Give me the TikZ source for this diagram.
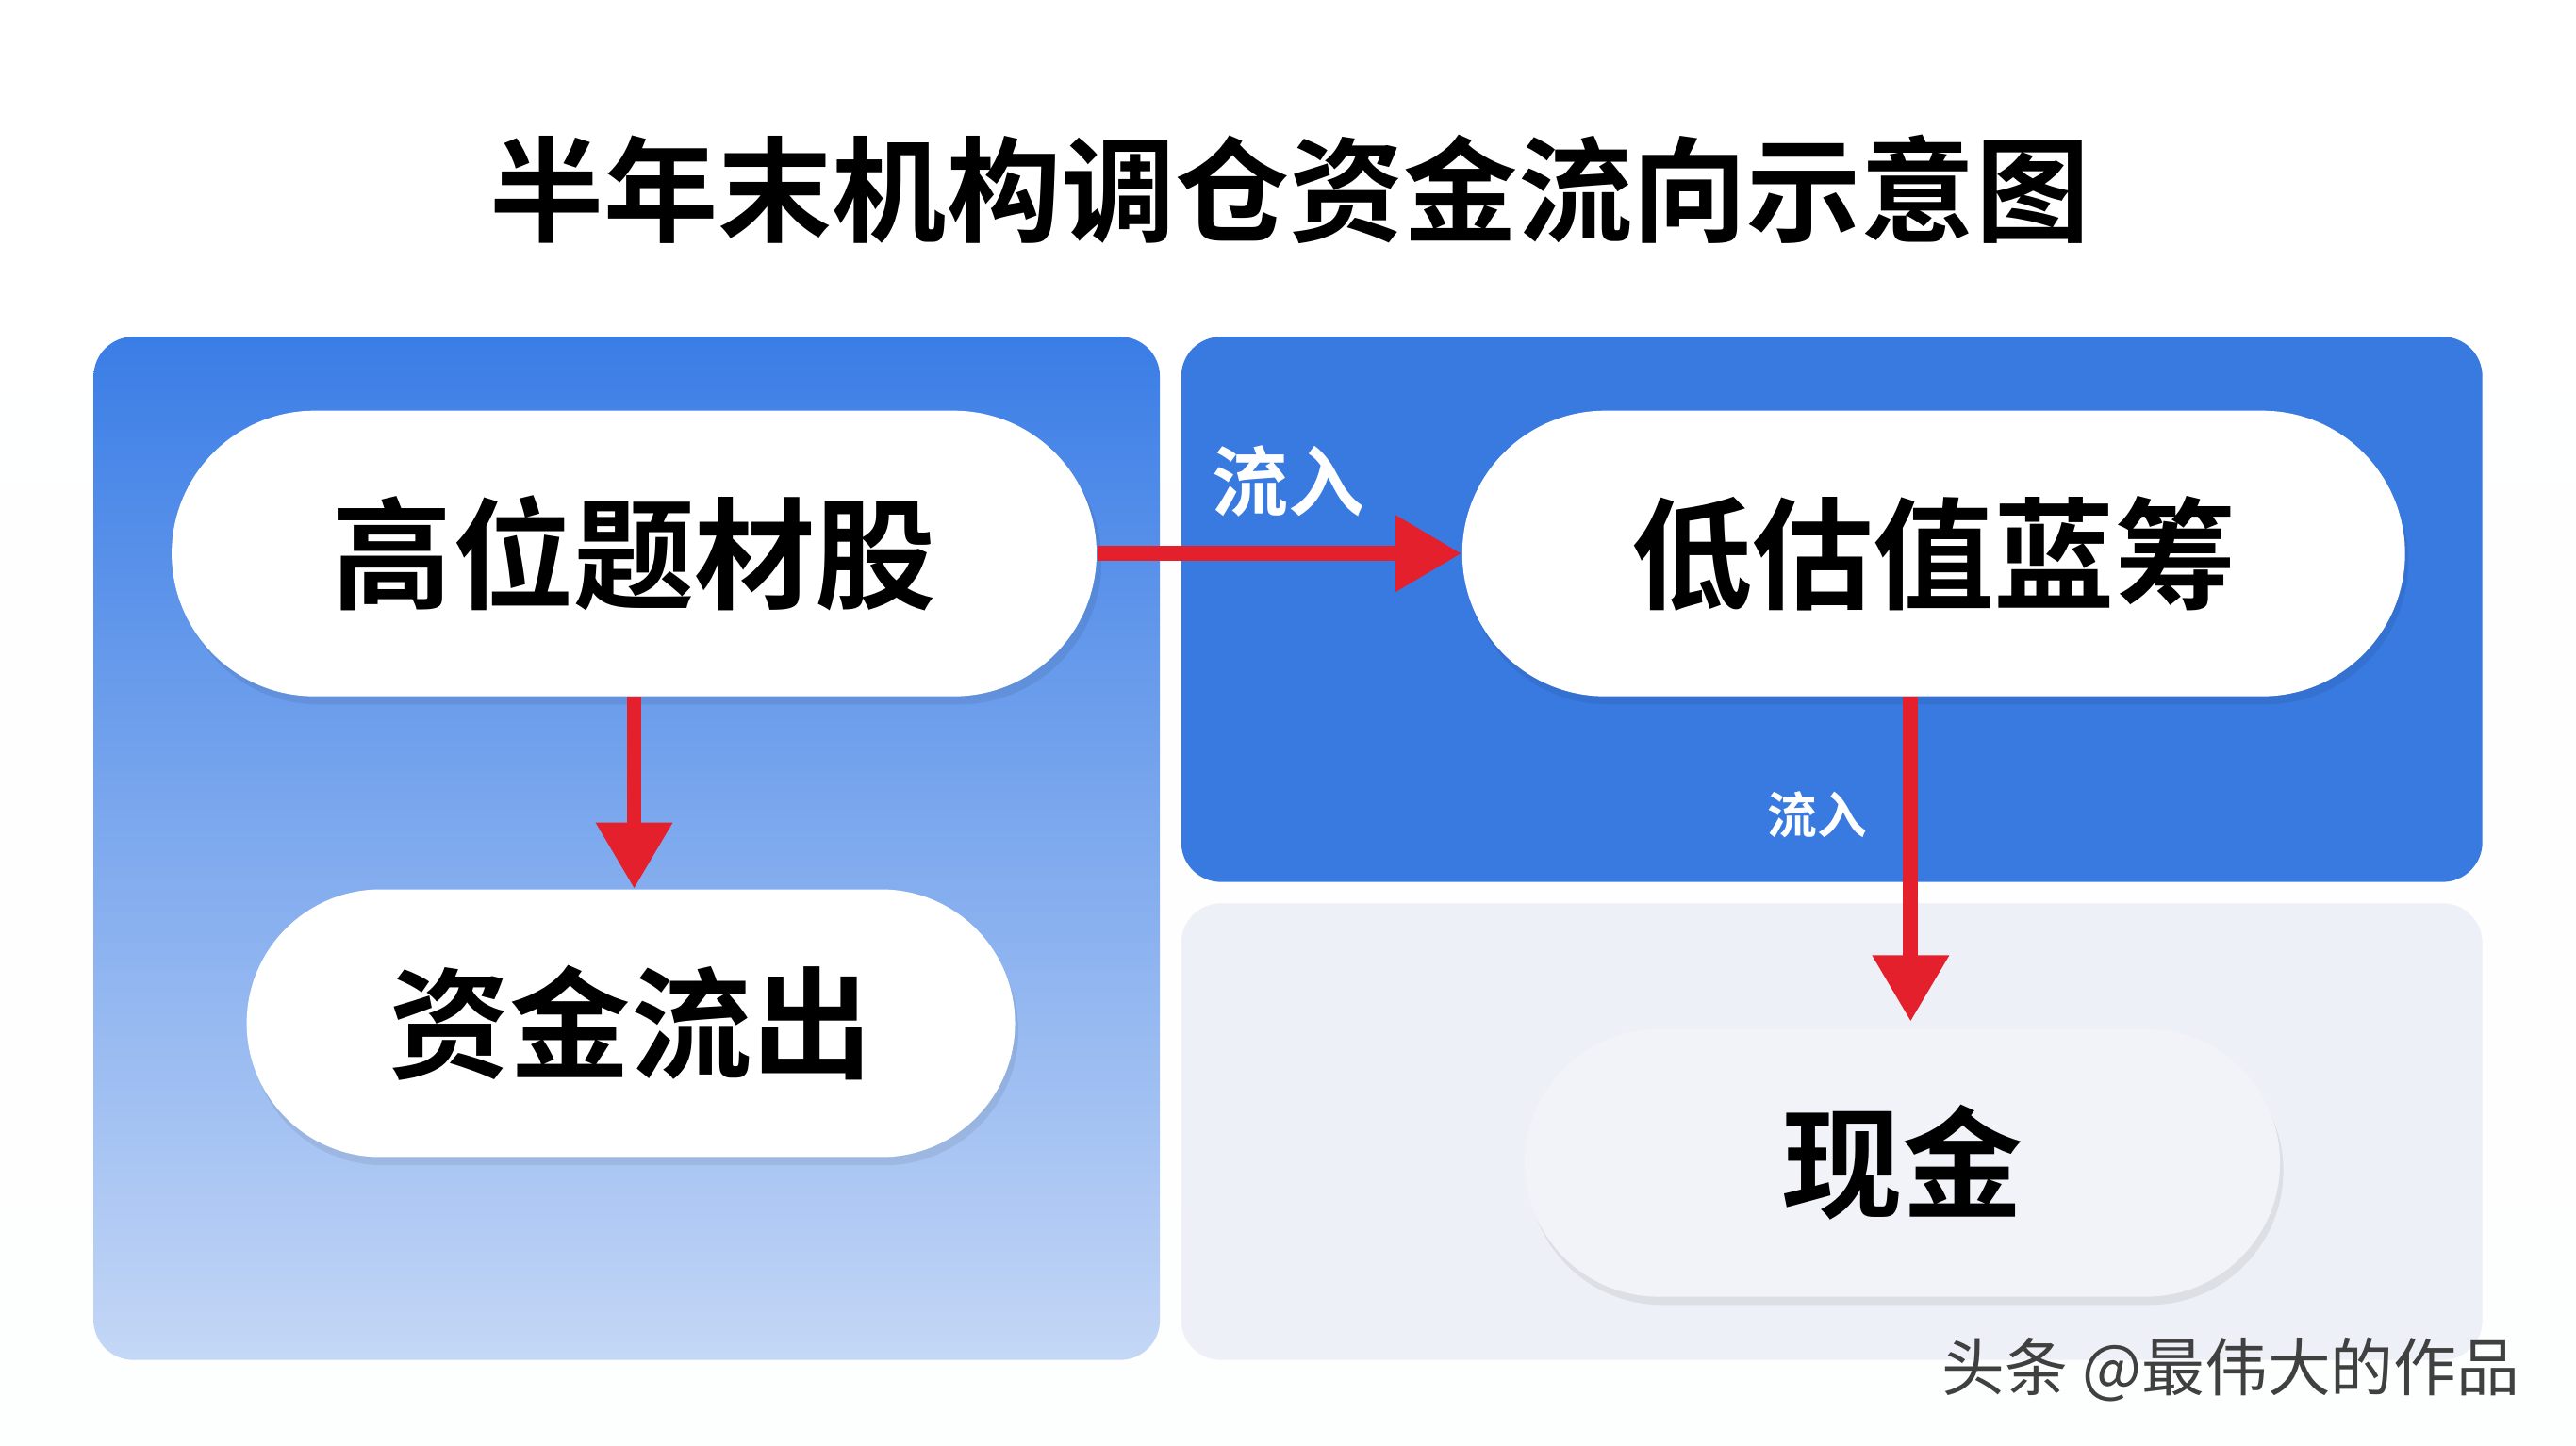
\documentclass[tikz,border=0pt]{standalone}
\usepackage{fontspec}
\newfontfamily\cjkb{Noto Sans CJK SC}[UprightFont={* Bold}]
\newfontfamily\cjk{Noto Sans CJK SC}
\usetikzlibrary{arrows.meta,shapes.misc}
\definecolor{bluetop}{HTML}{3A7DE6}
\definecolor{bluebot}{HTML}{C4D7F6}
\definecolor{arrowred}{HTML}{E3202B}
\definecolor{lightpanel}{HTML}{EDF0F6}
\definecolor{pillgray}{HTML}{F1F3F8}
\begin{document}
\begin{tikzpicture}[x=0.017423cm,y=-0.017423cm,
  pill/.style={rounded rectangle,fill=white,inner sep=0pt,font=\cjkb\fontsize{36.5}{40}\selectfont,text=black},
  shadowpill/.style={rounded rectangle,fill=black,opacity=0.07,inner sep=0pt},
  flow/.style={draw=arrowred,line width=4.5pt,-{Triangle[length=20pt,width=22pt]}},
  lbl/.style={text=white,font=\cjkb}]
\fill[top color=white,bottom color=white!90!lightpanel] (0,0) rectangle (1568,880);
\useasboundingbox (0,0) rectangle (1568,880);
\node[font=\cjkb\fontsize{34.5}{40}\selectfont] (title) at (785,115) {半年末机构调仓资金流向示意图};
\shade[top color=bluetop,bottom color=bluebot,rounded corners=12pt] (57,205) rectangle (706,828);
\fill[bluetop!98!black,rounded corners=12pt] (719,205) rectangle (1511,537);
\fill[lightpanel,rounded corners=12pt] (719,550) rectangle (1511,828);
% shadows
\node[shadowpill,minimum width=9.81cm,minimum height=3.03cm] at (389,342) {};
\node[shadowpill,minimum width=8.15cm,minimum height=2.84cm] at (386,628) {};
\node[shadowpill,minimum width=10.0cm,minimum height=3.03cm] at (1179,342) {};
\node[shadowpill,minimum width=8.01cm,minimum height=2.84cm] at (1160,713) {};
% pills
\node[pill,minimum width=9.81cm,minimum height=3.03cm] (a) at (386,337) {高位题材股};
\node[pill,minimum width=8.15cm,minimum height=2.84cm] (b) at (384,623) {资金流出};
\node[pill,minimum width=10.0cm,minimum height=3.03cm] (c) at (1177,337) {低估值蓝筹};
\node[pill,fill=pillgray,minimum width=8.01cm,minimum height=2.84cm] (d) at (1158,708) {现金};
% arrows
\draw[flow] (a.east) -- (c.west);
\draw[flow] (a.south) -- (a.south |- b.north);
\draw[flow] (c.south -| 1163,0) -- (1163,622) coordinate (dtop);
\node[lbl,font=\cjkb\fontsize{23}{26}\selectfont] (l1) at (784,293) {流入};
\node[lbl,font=\cjkb\fontsize{15}{18}\selectfont] (l2) at (1106,496) {流入};
\node[font=\cjk\fontsize{19}{22}\selectfont,text=black!75] (wm) at (1358,834) {头条 @最伟大的作品};
\end{tikzpicture}
\end{document}
